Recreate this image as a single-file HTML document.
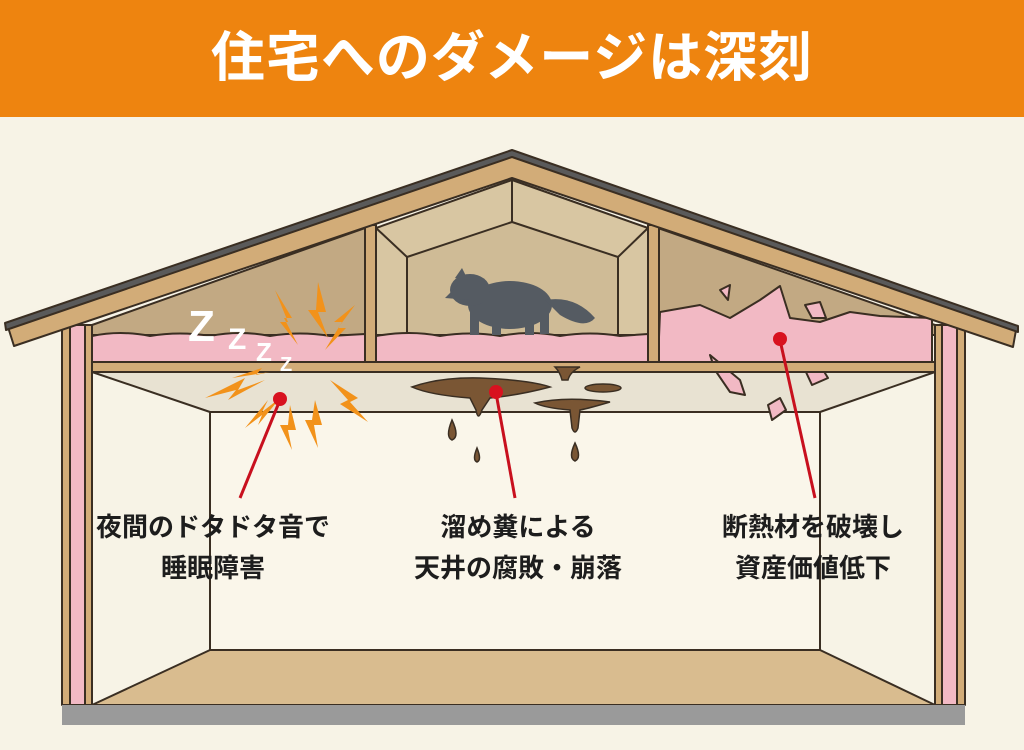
<!DOCTYPE html>
<html><head><meta charset="utf-8"><style>
html,body{margin:0;padding:0;background:#F7F3E6}
body{width:1024px;height:750px;overflow:hidden;position:relative;font-family:"Liberation Sans","Noto Sans CJK JP",sans-serif}
.hdr{position:absolute;left:0;top:0;width:1024px;height:117px;background:#EE840F;color:#fff;font-weight:bold;font-size:54px;text-align:center;line-height:117px;letter-spacing:1px}
svg{position:absolute;left:0;top:0}
.lb{position:absolute;font-weight:bold;font-size:26px;color:#1d1d1d;text-align:center;line-height:41px;width:300px}
</style></head><body>
<div class="hdr">住宅へのダメージは深刻</div>
<svg width="1024" height="750" viewBox="0 0 1024 750">
<g stroke="#3a2e22" stroke-width="2" stroke-linejoin="round">
<rect x="210" y="412" width="610" height="238" fill="#FAF6EA"/>
<polygon points="92,705 210,650 820,650 935,705" fill="#D9BC8F"/>
<polygon points="92,372 935,372 820,412 210,412" fill="#E8E2D2"/>
<line x1="92" y1="372" x2="92" y2="705"/><line x1="935" y1="372" x2="935" y2="705"/>
<polygon points="92,330 512,180 935,330 935,335 92,335" fill="#C9B08A"/>
<polygon points="376,228 512,180 648,228 648,335 376,335" fill="#D8C6A2"/>
<polygon points="407,257 512,222 618,257 618,335 407,335" fill="#CFBB96"/>
<line x1="376" y1="228" x2="407" y2="257"/><line x1="648" y1="228" x2="618" y2="257"/><line x1="512" y1="180" x2="512" y2="222"/>
<polygon points="92,335 92,325 365,228 365,335" fill="#C2A983"/>
<polygon points="658,228 935,325 935,335 658,335" fill="#C2A983"/>
<path d="M92,362 L92,336 Q120,330 150,336 Q180,331 210,336 Q240,330 270,336 Q300,331 330,336 L365,334 L365,362Z" fill="#F2B9C4"/>
<path d="M376,362 L376,336 Q410,330 440,336 Q470,331 500,336 Q530,330 560,336 Q590,331 620,336 L648,334 L648,362Z" fill="#F2B9C4"/>
<path d="M658,362 L660,312 L700,305 L730,318 L760,300 L780,286 L790,318 L820,322 L850,312 L880,316 L932,318 L932,362Z" fill="#F2B9C4"/>
<path d="M710,355 L740,380 L745,395 L730,392 L715,370Z" fill="#F2B9C4"/>
<path d="M805,370 L820,365 L828,378 L812,385Z" fill="#F2B9C4"/>
<path d="M768,405 L780,398 L786,410 L772,420Z" fill="#F2B9C4"/>
<path d="M720,290 L730,285 L728,300Z" fill="#F2B9C4"/>
<path d="M805,305 L820,302 L826,318 L812,318Z" fill="#F2B9C4"/>
<rect x="365" y="225" width="11" height="137" fill="#D2AC78"/>
<rect x="648" y="225" width="11" height="137" fill="#D2AC78"/>
<rect x="92" y="362" width="843" height="10" fill="#D2AC78"/>
<rect x="62" y="325" width="8" height="380" fill="#D2AC78"/>
<rect x="70" y="325" width="15" height="380" fill="#F2B9C4"/>
<rect x="85" y="325" width="7" height="380" fill="#D2AC78"/>
<rect x="935" y="325" width="7" height="380" fill="#D2AC78"/>
<rect x="942" y="325" width="15" height="380" fill="#F2B9C4"/>
<rect x="957" y="325" width="8" height="380" fill="#D2AC78"/>
<polygon points="8,327 512,156 1016,330 1013,347 512,178 14,346" fill="#D2AC78"/>
<polygon points="5,323 512,150 1018,326 1018,332 512,157 6,330" fill="#5A5A5A"/>
</g>
<rect x="62" y="705" width="903" height="20" fill="#9A9A9A"/>
<g fill="#555B62">
<ellipse cx="510" cy="305" rx="42" ry="24"/>
<ellipse cx="470" cy="290" rx="20" ry="16"/>
<polygon points="445,298 458,285 470,300"/>
<polygon points="455,278 462,268 468,280"/>
<path d="M545,300 Q575,295 595,318 Q585,330 560,315Z"/>
<rect x="470" y="310" width="9" height="25"/><rect x="492" y="315" width="9" height="20"/><rect x="525" y="312" width="9" height="23"/><rect x="540" y="310" width="9" height="24"/>
</g>
<g fill="#7A5634" stroke="#3a2e22" stroke-width="1.5">
<path d="M412,387 Q440,377 480,378 Q530,380 550,387 Q520,395 490,398 L482,410 Q478,422 476,410 L470,398 Q430,395 412,387Z"/>
<path d="M535,403 Q565,396 610,402 Q590,408 580,410 L578,428 Q575,436 572,428 L570,410 Q545,408 535,403Z"/>
<ellipse cx="603" cy="388" rx="18" ry="4"/>
<path d="M452,420 Q445,437 452,440 Q460,437 452,420Z"/>
<path d="M477,448 Q472,460 477,462 Q482,460 477,448Z"/>
<path d="M575,443 Q568,458 575,461 Q582,458 575,443Z"/>
<path d="M555,367 L580,367 Q570,372 568,380 L562,380 Q560,372 555,367Z"/>
</g>
<g fill="#F2921A">
<polygon points="275,290 292,318 284,318 298,345 280,322 288,322"/>
<polygon points="318,282 326,312 318,312 328,338 308,310 316,310"/>
<polygon points="355,305 338,328 346,328 325,350 342,322 334,322"/>
<polygon points="205,398 245,378 238,390 265,380 228,400 236,390"/>
<polygon points="245,428 268,400 262,412 280,398 258,425 262,415"/>
<polygon points="290,405 296,430 288,430 292,450 280,425 288,425"/>
<polygon points="315,400 322,425 314,425 318,448 305,420 312,420"/>
<polygon points="330,380 358,398 350,402 368,422 340,404 348,400"/>
<polygon points="232,378 262,368 256,375 270,372"/>
</g>
<g fill="#fff" font-family="Liberation Sans,sans-serif" font-weight="bold">
<text x="188" y="341" font-size="44">Z</text>
<text x="228" y="349" font-size="30">Z</text>
<text x="256" y="361" font-size="26">Z</text>
<text x="280" y="371" font-size="20">Z</text>
</g>
<g stroke="#C8101E" stroke-width="3">
<line x1="280" y1="400" x2="240" y2="498"/>
<line x1="496" y1="393" x2="515" y2="498"/>
<line x1="780" y1="340" x2="815" y2="498"/>
</g>
<g fill="#D8121F"><circle cx="280" cy="399" r="7"/><circle cx="496" cy="392" r="7"/><circle cx="780" cy="339" r="7"/></g>
</svg>
<div class="lb" style="left:63px;top:507px">夜間のドタドタ音で<br>睡眠障害</div>
<div class="lb" style="left:368px;top:507px">溜め糞による<br>天井の腐敗・崩落</div>
<div class="lb" style="left:663px;top:507px">断熱材を破壊し<br>資産価値低下</div>
</body></html>
